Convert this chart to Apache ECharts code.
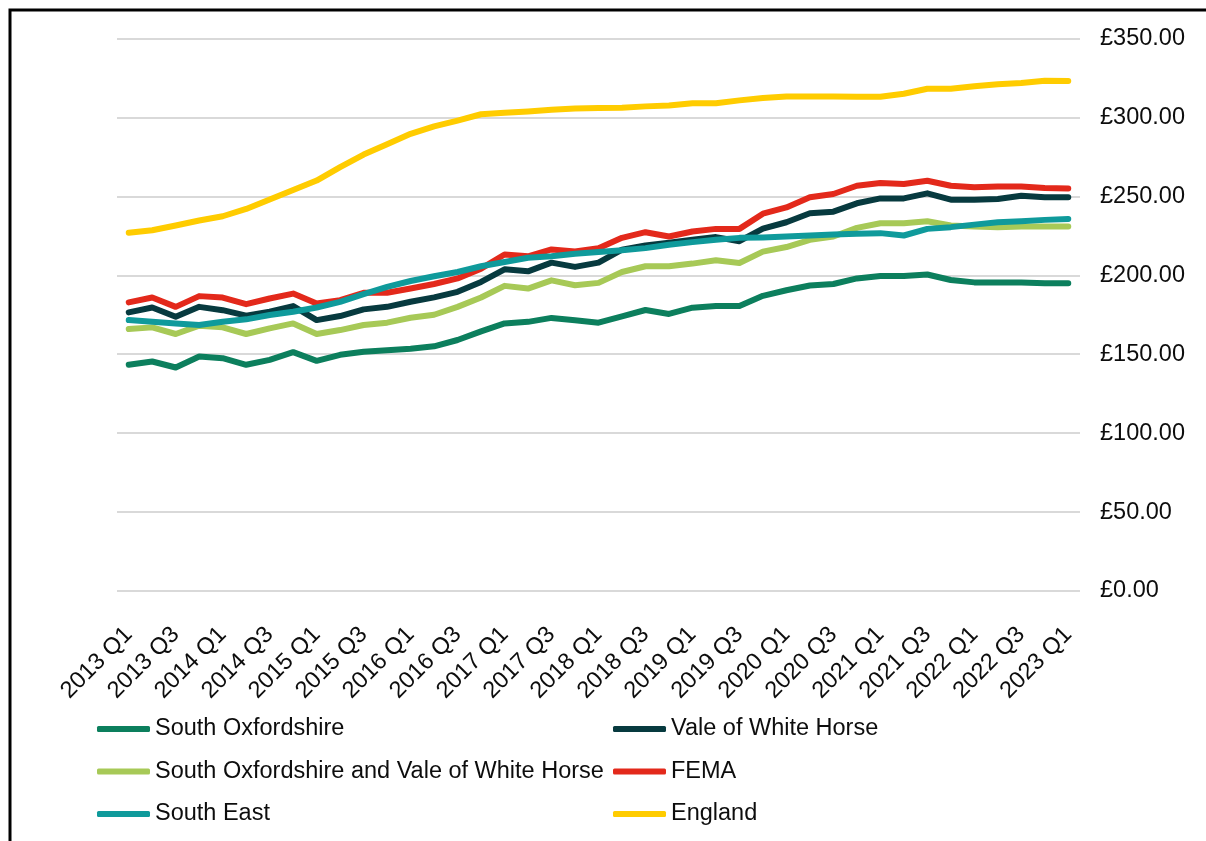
<!DOCTYPE html>
<html>
<head>
<meta charset="utf-8">
<title>Quarterly values 2013–2023</title>
<script src="https://cdn.jsdelivr.net/npm/echarts@6/dist/echarts.min.js"></script>
<style>
  html, body { margin: 0; padding: 0; background: #fff; }
  #chart { width: 1206px; height: 841px; }
</style>
</head>
<body>
<div id="chart"></div>
<script>
// Quarter labels, 2013 Q1 to 2023 Q1
const quarters = [
  '2013 Q1','2013 Q2','2013 Q3','2013 Q4',
  '2014 Q1','2014 Q2','2014 Q3','2014 Q4',
  '2015 Q1','2015 Q2','2015 Q3','2015 Q4',
  '2016 Q1','2016 Q2','2016 Q3','2016 Q4',
  '2017 Q1','2017 Q2','2017 Q3','2017 Q4',
  '2018 Q1','2018 Q2','2018 Q3','2018 Q4',
  '2019 Q1','2019 Q2','2019 Q3','2019 Q4',
  '2020 Q1','2020 Q2','2020 Q3','2020 Q4',
  '2021 Q1','2021 Q2','2021 Q3','2021 Q4',
  '2022 Q1','2022 Q2','2022 Q3','2022 Q4',
  '2023 Q1'
];

const southOxfordshire = [
  143.3, 145.4, 141.6, 148.5, 147.5, 143.3, 146.4, 151.3, 145.8, 149.6,
  151.5, 152.5, 153.5, 155.0, 159.0, 164.5, 169.5, 170.5, 173.0, 171.5,
  170.0, 174.0, 178.0, 175.5, 179.5, 180.5, 180.5, 187.0, 190.5, 193.5,
  194.5, 198.0, 199.5, 199.5, 200.5, 197.0, 195.5, 195.5, 195.5, 195.0,
  195.0
];

const valeOfWhiteHorse = [
  176.5, 179.6, 173.7, 180.0, 177.9, 174.4, 176.9, 180.5, 171.6, 174.2,
  178.4, 180.0, 183.2, 186.0, 189.5, 195.8, 203.8, 202.5, 208.0, 205.3,
  208.0, 216.2, 218.9, 220.6, 222.5, 224.2, 221.6, 229.5, 233.6, 239.3,
  240.3, 245.6, 248.7, 248.7, 251.9, 247.9, 247.9, 248.3, 250.4, 249.4,
  249.4
];

const southOxonAndVale = [
  166.0, 167.0, 162.8, 168.1, 167.0, 162.8, 166.4, 169.5, 162.8, 165.3,
  168.5, 170.0, 173.1, 175.0, 180.0, 185.9, 193.3, 191.6, 196.8, 193.7,
  195.2, 202.1, 205.7, 205.7, 207.4, 209.5, 207.8, 215.0, 217.9, 222.5,
  224.6, 230.0, 233.0, 233.0, 234.2, 231.5, 230.9, 230.5, 230.9, 230.9,
  230.9
];

const fema = [
  182.8, 185.9, 180.0, 186.8, 185.9, 181.7, 185.3, 188.4, 182.1, 184.2,
  188.9, 188.9, 191.6, 194.5, 198.0, 204.2, 213.2, 212.0, 216.4, 215.1,
  217.2, 223.7, 227.3, 224.6, 227.7, 229.4, 229.4, 239.0, 243.0, 249.4,
  251.5, 256.7, 258.4, 257.8, 259.9, 256.7, 255.7, 256.3, 256.3, 255.3,
  255.0
];

const southEast = [
  171.6, 170.6, 169.5, 168.5, 170.6, 172.1, 174.8, 176.9, 179.6, 183.2,
  188.0, 192.6, 196.4, 199.4, 202.1, 205.7, 208.4, 211.1, 212.0, 213.7,
  214.7, 215.8, 217.2, 219.3, 221.0, 222.5, 223.7, 224.0, 224.6, 225.2,
  225.8, 226.3, 226.7, 225.2, 229.4, 230.5, 232.1, 233.6, 234.2, 235.1,
  235.7
];

const england = [
  227.0, 228.5, 231.5, 234.7, 237.4, 242.0, 248.0, 254.0, 260.0, 268.5,
  276.5, 283.0, 289.6, 294.3, 298.0, 302.0, 303.0, 303.8, 304.9, 305.7,
  306.0, 306.1, 307.0, 307.6, 309.0, 309.0, 310.8, 312.3, 313.3, 313.3,
  313.3, 313.1, 313.1, 315.0, 318.2, 318.2, 319.7, 321.0, 321.8, 323.3,
  323.1
];

// y axis ticks: £0.00 to £350.00 every £50
const yMin = 0, yMax = 350, yStep = 50;

const FONT = '"Liberation Sans", Arial, sans-serif';
const TEXT = '#0d0d0d';
const FONT_SIZE = 23.5;

const seriesDefs = [
  { name: 'South Oxfordshire', data: southOxfordshire, color: '#0c7f5d' },
  { name: 'Vale of White Horse', data: valeOfWhiteHorse, color: '#073a3f' },
  { name: 'South Oxfordshire and Vale of White Horse', data: southOxonAndVale, color: '#a7c957' },
  { name: 'FEMA', data: fema, color: '#e3291b' },
  { name: 'South East', data: southEast, color: '#0f9a9b' },
  { name: 'England', data: england, color: '#ffcc00' }
];

const legendBase = {
  orient: 'vertical',
  top: 717,
  padding: 0,
  itemWidth: 53,
  itemHeight: 6,
  itemGap: 18.5,
  icon: 'roundRect',
  selectedMode: false,
  textStyle: { fontFamily: FONT, fontSize: FONT_SIZE, color: TEXT, lineHeight: 24 }
};

const chart = echarts.init(document.getElementById('chart'), null, { renderer: 'canvas' });

chart.setOption({
  backgroundColor: '#ffffff',
  animation: false,
  color: seriesDefs.map(s => s.color),
  graphic: [{
    type: 'rect',
    left: 7.5, top: 7.5,
    shape: { width: 1400, height: 1000 },
    style: { fill: 'none', stroke: '#000', lineWidth: 3 },
    silent: true
  }],
  grid: {
    left: 117, right: 126, top: 38.5, bottom: 250,
    containLabel: false,
    outerBoundsMode: 'none'
  },
  legend: [
    Object.assign({}, legendBase, { left: 97, data: [seriesDefs[0].name, seriesDefs[2].name, seriesDefs[4].name] }),
    Object.assign({}, legendBase, { left: 613, data: [seriesDefs[1].name, seriesDefs[3].name, seriesDefs[5].name] })
  ],
  xAxis: {
    type: 'category',
    data: quarters,
    boundaryGap: true,
    axisLine: { show: false },
    axisTick: { show: false },
    axisLabel: {
      interval: 1,
      rotate: 45,
      margin: 40,
      fontFamily: FONT,
      fontSize: FONT_SIZE,
      color: TEXT
    }
  },
  yAxis: {
    type: 'value',
    position: 'right',
    min: yMin,
    max: yMax,
    interval: yStep,
    axisLine: { show: false },
    axisTick: { show: false },
    splitLine: { lineStyle: { color: '#d9d9d9', width: 2 } },
    axisLabel: {
      margin: 20,
      fontFamily: FONT,
      fontSize: FONT_SIZE,
      color: TEXT,
      formatter: v => '£' + v.toFixed(2)
    }
  },
  series: seriesDefs.map(s => ({
    name: s.name,
    type: 'line',
    data: s.data,
    symbol: 'none',
    smooth: false,
    lineStyle: { width: 6, color: s.color, cap: 'round', join: 'round' },
    itemStyle: { color: s.color },
    emphasis: { disabled: true }
  }))
});
</script>
</body>
</html>
